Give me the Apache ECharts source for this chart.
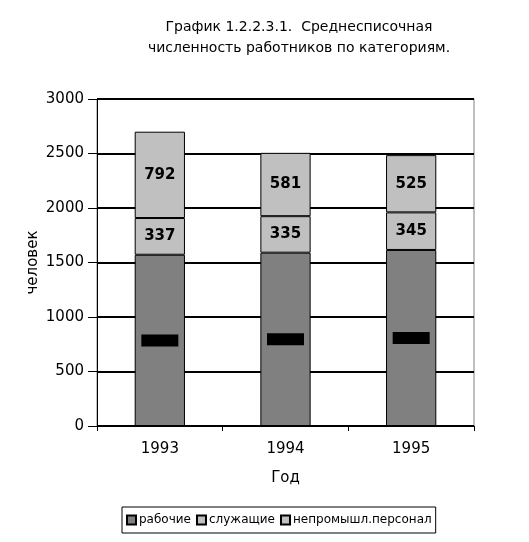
<!DOCTYPE html>
<html>
<head>
<meta charset="utf-8">
<script src="https://cdn.jsdelivr.net/npm/echarts@6/dist/echarts.min.js"></script>
<style>html,body{margin:0;padding:0;background:#fff}#c{width:529px;height:542px}</style>
</head>
<body>
<div id="c"></div>
<script>
var categories = ['1993', '1994', '1995'];
var workers = [1571, 1590, 1615];
var employees = [337, 335, 345];
var nonIndustrial = [792, 581, 525];
var seriesNames = ['рабочие', 'служащие', 'непромышл.персонал'];
var yTicks = [0, 500, 1000, 1500, 2000, 2500, 3000];

var FONT = 'DejaVu Sans';
var chart = echarts.init(document.getElementById('c'), null, {renderer: 'canvas'});
var barLabel = {show: true, position: 'inside', color: '#000', fontWeight: 'bold', fontSize: 15, fontFamily: FONT};
chart.setOption({
  animation: false,
  title: {
    text: 'График 1.2.2.3.1.  Среднесписочная\nчисленность работников по категориям.',
    left: 294, top: 12, textAlign: 'center',
    textStyle: {fontFamily: FONT, fontSize: 14, fontWeight: 'normal', color: '#000', lineHeight: 21}
  },
  legend: {
    data: seriesNames,
    left: 122, top: 507,
    orient: 'horizontal',
    padding: [7, 4, 7, 4],
    itemGap: 5, itemWidth: 9, itemHeight: 9,
    borderColor: '#000', borderWidth: 1,
    icon: 'rect',
    textStyle: {fontFamily: FONT, fontSize: 12, color: '#000', padding: [0, 0, 0, -2]}
  },
  grid: {left: 97, right: 55, top: 99, bottom: 116, show: true, borderColor: '#808080', borderWidth: 1, backgroundColor: 'transparent'},
  xAxis: {
    type: 'category', data: categories,
    name: 'Год', nameLocation: 'middle', nameGap: 45,
    nameTextStyle: {fontFamily: FONT, fontSize: 15, color: '#000'},
    axisLine: {show: true, lineStyle: {color: '#000', width: 1}},
    axisTick: {show: true, length: 5, lineStyle: {color: '#000'}},
    axisLabel: {fontFamily: FONT, fontSize: 15, color: '#000', margin: 16}
  },
  yAxis: {
    type: 'value', min: yTicks[0], max: yTicks[yTicks.length - 1], interval: 500,
    name: 'человек', nameLocation: 'middle', nameGap: 56, nameRotate: 90, nameMoveOverlap: false,
    nameTextStyle: {fontFamily: FONT, fontSize: 15, color: '#000'},
    axisLine: {show: true, lineStyle: {color: '#000', width: 1}},
    axisTick: {show: true, length: 9, lineStyle: {color: '#000'}},
    axisLabel: {fontFamily: FONT, fontSize: 15, color: '#000', margin: 13, formatter: function (v) { return String(v); }},
    splitLine: {show: true, lineStyle: {color: '#000', width: 2}}
  },
  series: [
    {
      name: seriesNames[0], type: 'bar', stack: 'total', data: workers, barWidth: '40%',
      itemStyle: {color: '#808080', borderColor: '#000', borderWidth: 1},
      label: {show: true, position: 'inside', color: '#000', backgroundColor: '#000',
              fontWeight: 'bold', fontSize: 11, fontFamily: FONT, width: 37, height: 12, lineHeight: 12, align: 'center'}
    },
    {
      name: seriesNames[1], type: 'bar', stack: 'total', data: employees,
      itemStyle: {color: '#c0c0c0', borderColor: '#000', borderWidth: 1},
      label: barLabel
    },
    {
      name: seriesNames[2], type: 'bar', stack: 'total', data: nonIndustrial,
      itemStyle: {color: '#c0c0c0', borderColor: '#000', borderWidth: 1},
      label: barLabel
    }
  ]
});
</script>
</body>
</html>
